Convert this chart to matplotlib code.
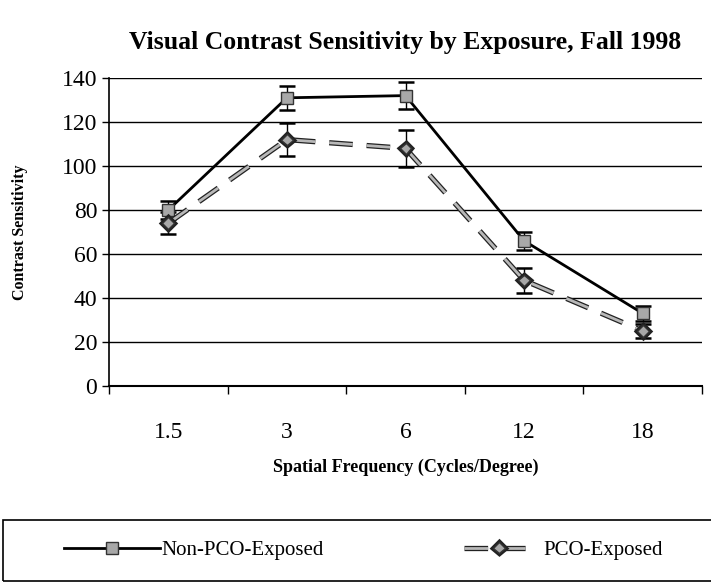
import numpy as np
import matplotlib.pyplot as plt
import matplotlib.patheffects as pe
from matplotlib.patches import Rectangle
from matplotlib.ticker import FixedLocator

plt.rcParams["font.family"] = ["Liberation Serif", "DejaVu Serif"]

freqs = ["1.5", "3", "6", "12", "18"]
non_pco = [80, 131, 132, 66, 33]
non_pco_err = [4, 5.5, 6, 4, 3.5]
pco = [74, 112, 108, 48, 25]
pco_err = [5, 7.5, 8.5, 5.5, 3]
y_ticks = [0, 20, 40, 60, 80, 100, 120, 140]

x = np.arange(len(freqs))

fig = plt.figure(figsize=(7.11, 5.84), dpi=100)
ax = fig.add_axes([109 / 711, 1 - 386 / 584, (702 - 109) / 711, (386 - 78) / 584])

for v in y_ticks[1:]:
    ax.axhline(v, color="black", lw=1.0, zorder=1)

ax.errorbar(x, non_pco, yerr=non_pco_err, fmt="none", ecolor="black",
            elinewidth=1.0, capsize=6, capthick=1.8, zorder=3)
ax.errorbar(x, pco, yerr=pco_err, fmt="none", ecolor="black",
            elinewidth=1.0, capsize=6, capthick=1.8, zorder=3)

l1, = ax.plot(x, non_pco, color="black", lw=2.0, marker="s", markersize=8.5,
              markerfacecolor="#a8a8a8", markeredgecolor="#333333",
              markeredgewidth=1.0, zorder=4)
l2, = ax.plot(x, pco, color="#b8b8b8", lw=2.0, dashes=(8.5, 5),
              marker="D", markersize=6, markerfacecolor="#a8a8a8",
              markeredgecolor="#333333", markeredgewidth=1.0, zorder=4,
              path_effects=[pe.Stroke(linewidth=3.8, foreground="#222222"),
                            pe.Normal()])

ax.set_xlim(-0.5, 4.5)
ax.set_ylim(0, 140)
ax.set_xticks(x)
ax.set_xticklabels(freqs, fontsize=17)
ax.xaxis.set_minor_locator(FixedLocator(np.arange(-0.5, 5, 1.0)))
ax.tick_params(axis="x", which="major", length=0, pad=26)
ax.tick_params(axis="x", which="minor", length=6, width=1.0, direction="out")
ax.set_yticks(y_ticks)
ax.tick_params(axis="y", labelsize=17, length=5, width=1.0, direction="out")

ax.spines["top"].set_visible(False)
ax.spines["right"].set_visible(False)
ax.spines["left"].set_linewidth(1.2)
ax.spines["bottom"].set_linewidth(1.5)

ax.set_title("Visual Contrast Sensitivity by Exposure, Fall 1998",
             fontsize=18.5, fontweight="bold", pad=21)
ax.set_xlabel("Spatial Frequency (Cycles/Degree)", fontsize=13,
              fontweight="bold", labelpad=11)
ax.set_ylabel("Contrast Sensitivity", fontsize=11.5, fontweight="bold",
              labelpad=24)

# legend box at the bottom
fig.patches.append(Rectangle((3 / 711, 3 / 584), 1.0, 61 / 584,
                             transform=fig.transFigure, fill=False,
                             edgecolor="black", lw=1.2))
leg1 = fig.legend(handles=[l1], labels=["Non-PCO-Exposed"], loc="center left",
                  bbox_to_anchor=(45 / 711, 1 - 550 / 584), frameon=False,
                  fontsize=15, handlelength=4.6, handletextpad=0.1)
leg2 = fig.legend(handles=[l2], labels=["PCO-Exposed"], loc="center left",
                  bbox_to_anchor=(445 / 711, 1 - 550 / 584), frameon=False,
                  fontsize=15, handlelength=3.4, handletextpad=0.4)

fig.savefig("out.png", dpi=100)
